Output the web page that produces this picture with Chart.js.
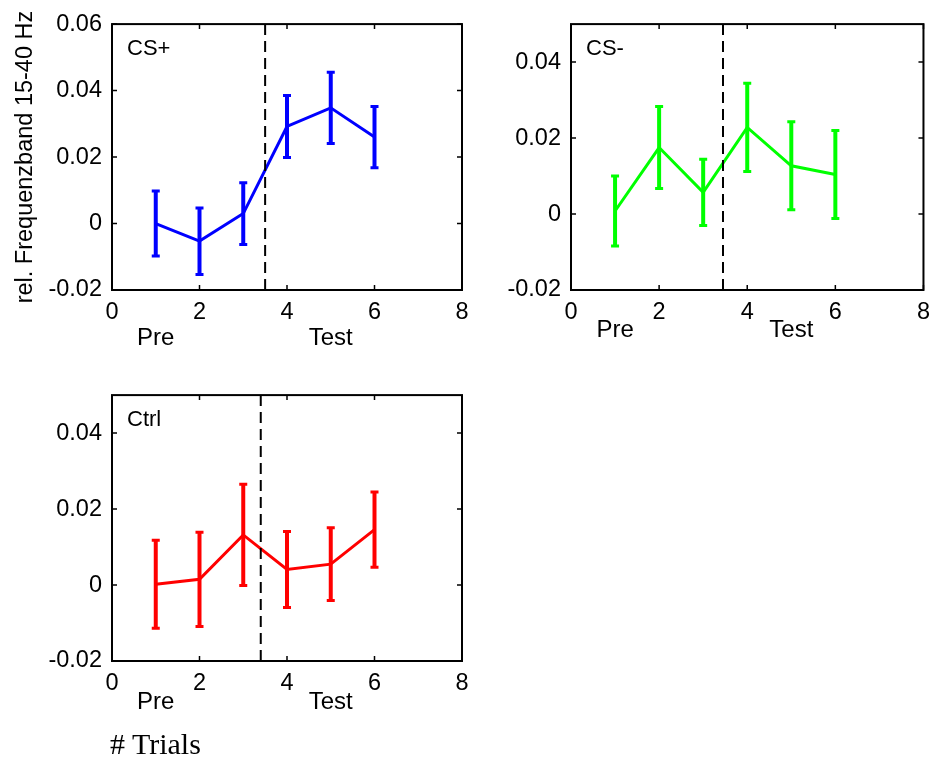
<!DOCTYPE html>
<html>
<head>
<meta charset="utf-8">
<script src="https://cdn.jsdelivr.net/npm/chart.js@4.4.1/dist/chart.umd.min.js"></script>
<style>
  body { margin: 0; background: #fff; width: 930px; height: 763px; position: relative; overflow: hidden; }
  canvas { position: absolute; }
  #xlabel { position: absolute; left: 110px; top: 727px; font: 30px 'Liberation Serif', 'Times New Roman', serif; color: #000; }
</style>
</head>
<body>
<canvas id="cs-plus" width="480" height="360" style="left:0;top:0"></canvas>
<canvas id="cs-minus" width="458" height="360" style="left:480px;top:0"></canvas>
<canvas id="ctrl" width="480" height="360" style="left:0;top:371px"></canvas>
<div id="xlabel"># Trials</div>

<script>
// ── Data ──
const trials = [1, 2, 3, 4, 5, 6];

const csPlusMean = [0.0000, -0.0053, 0.0030, 0.0292, 0.0348, 0.0260];
const csPlusErr  = [0.0098, 0.0100, 0.0093, 0.0093, 0.0107, 0.0092];

const csMinusMean = [0.0008, 0.0175, 0.0057, 0.0228, 0.0127, 0.0104];
const csMinusErr  = [0.0092, 0.0108, 0.0087, 0.0116, 0.0116, 0.0116];

const ctrlMean = [0.0002, 0.0015, 0.0132, 0.0041, 0.0055, 0.0146];
const ctrlErr  = [0.0116, 0.0124, 0.0133, 0.0100, 0.0096, 0.0099];

const xTicks = [0, 2, 4, 6, 8];
const yTicksTall = [-0.02, 0, 0.02, 0.04, 0.06];
const yTicksShort = [-0.02, 0, 0.02, 0.04];
const yTickLabels = { '-0.02': '-0.02', '0': '0', '0.02': '0.02', '0.04': '0.04', '0.06': '0.06' };

const phaseLabels = ['Pre', 'Test'];
const phaseAt = [1, 5];

const FONT = "'Liberation Sans', Arial, Helvetica, sans-serif";

// ── Plugin: box, inside ticks, split line, error bars, labels ──
const matlabFrame = {
  id: 'matlabFrame',
  afterDatasetsDraw(chart, args, opts) {
    const { ctx, chartArea: a, scales: { x, y } } = chart;
    ctx.save();

    // dashed split between Pre and Test
    const sx = x.getPixelForValue(opts.split);
    ctx.strokeStyle = '#000';
    ctx.lineWidth = 2;
    ctx.setLineDash([11, 6]);
    ctx.beginPath();
    ctx.moveTo(sx, a.top);
    ctx.lineTo(sx, a.bottom);
    ctx.stroke();
    ctx.setLineDash([]);

    // error bars
    ctx.strokeStyle = opts.color;
    ctx.lineCap = 'butt';
    opts.means.forEach((m, i) => {
      const px = x.getPixelForValue(trials[i]);
      const top = y.getPixelForValue(m + opts.errs[i]);
      const bot = y.getPixelForValue(m - opts.errs[i]);
      ctx.lineWidth = 4;
      ctx.beginPath();
      ctx.moveTo(px, top);
      ctx.lineTo(px, bot);
      ctx.stroke();
      ctx.lineWidth = 3;
      ctx.beginPath();
      ctx.moveTo(px - 4, top); ctx.lineTo(px + 4, top);
      ctx.moveTo(px - 4, bot); ctx.lineTo(px + 4, bot);
      ctx.stroke();
    });

    // box
    ctx.strokeStyle = '#000';
    ctx.lineWidth = 2;
    ctx.strokeRect(a.left, a.top, a.right - a.left, a.bottom - a.top);

    // inside tick marks on all four sides
    ctx.lineWidth = 1.5;
    ctx.beginPath();
    x.ticks.forEach(t => {
      const px = x.getPixelForValue(t.value);
      ctx.moveTo(px, a.bottom); ctx.lineTo(px, a.bottom - 5);
      ctx.moveTo(px, a.top); ctx.lineTo(px, a.top + 5);
    });
    y.ticks.forEach(t => {
      const py = y.getPixelForValue(t.value);
      ctx.moveTo(a.left, py); ctx.lineTo(a.left + 5, py);
      ctx.moveTo(a.right, py); ctx.lineTo(a.right - 5, py);
    });
    ctx.stroke();

    // panel name
    ctx.fillStyle = '#000';
    ctx.font = '22px ' + FONT;
    ctx.textAlign = 'left';
    ctx.textBaseline = 'middle';
    ctx.fillText(opts.name, a.left + 15, a.top + 25);

    // Pre / Test
    ctx.font = '24px ' + FONT;
    ctx.textAlign = 'center';
    phaseLabels.forEach((lab, i) => {
      ctx.fillText(lab, x.getPixelForValue(phaseAt[i]), a.bottom + opts.phaseY);
    });
    ctx.restore();
  }
};

function makePanel(id, cfg) {
  const data = trials.map((t, i) => ({ x: t, y: cfg.means[i] }));
  return new Chart(document.getElementById(id), {
    type: 'line',
    data: {
      datasets: [{
        data,
        borderColor: cfg.color,
        borderWidth: 3,
        pointRadius: 0,
        tension: 0,
        fill: false,
      }],
    },
    options: {
      responsive: false,
      animation: false,
      devicePixelRatio: 1,
      layout: { padding: { top: cfg.padTop, right: cfg.padRight, left: 0, bottom: 0 } },
      plugins: {
        legend: { display: false },
        tooltip: { enabled: false },
        matlabFrame: {
          split: cfg.split, means: cfg.means, errs: cfg.errs,
          color: cfg.color, name: cfg.name, phaseY: cfg.phaseY,
        },
      },
      scales: {
        x: {
          type: 'linear',
          min: 0, max: 8,
          border: { display: false },
          grid: { display: false, drawTicks: false },
          afterBuildTicks: s => { s.ticks = xTicks.map(v => ({ value: v })); },
          afterFit: s => { s.height = 70; },
          ticks: {
            color: '#000', padding: 8,
            font: { family: FONT, size: 23.5 },
            callback: v => String(v),
          },
        },
        y: {
          min: -0.02, max: cfg.yMax,
          border: { display: false },
          grid: { display: false, drawTicks: false },
          afterBuildTicks: s => { s.ticks = cfg.yTicks.map(v => ({ value: v })); },
          afterFit: s => { s.width = cfg.yWidth; },
          title: {
            display: !!cfg.yTitle,
            text: cfg.yTitle || '',
            color: '#000',
            font: { family: FONT, size: 23.5 },
            padding: { top: 11, bottom: 0 },
          },
          ticks: {
            color: '#000', padding: 10,
            font: { family: FONT, size: 23.5 },
            callback: v => yTickLabels[String(Math.round(v * 100) / 100)],
          },
        },
      },
    },
    plugins: [matlabFrame],
  });
}

makePanel('cs-plus', {
  means: csPlusMean, errs: csPlusErr, color: '#0000ff', name: 'CS+',
  split: 3.5, yMax: 0.06, yTicks: yTicksTall, yWidth: 112,
  padTop: 23, padRight: 18, phaseY: 48,
  yTitle: 'rel. Frequenzband 15-40 Hz',
});

makePanel('cs-minus', {
  means: csMinusMean, errs: csMinusErr, color: '#00ff00', name: 'CS-',
  split: 3.45, yMax: 0.05, yTicks: yTicksShort, yWidth: 91,
  padTop: 23, padRight: 8, phaseY: 40,
});

makePanel('ctrl', {
  means: ctrlMean, errs: ctrlErr, color: '#ff0000', name: 'Ctrl',
  split: 3.4, yMax: 0.05, yTicks: yTicksShort, yWidth: 112,
  padTop: 23, padRight: 18, phaseY: 41,
});
</script>
</body>
</html>
